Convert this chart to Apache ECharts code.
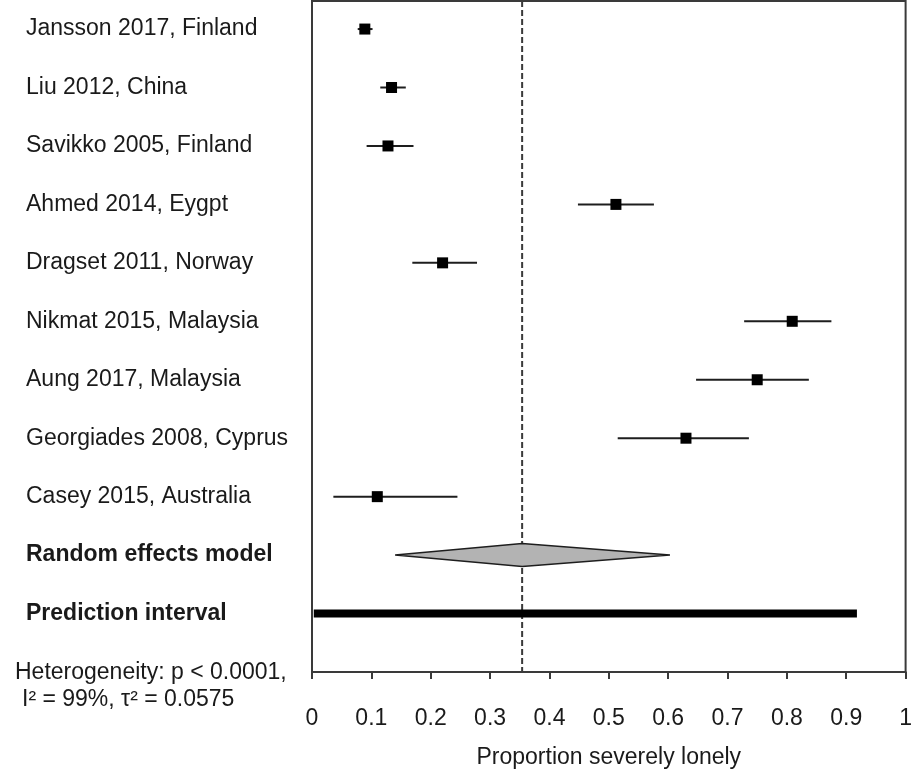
<!DOCTYPE html>
<html>
<head>
<meta charset="utf-8">
<script src="https://cdn.jsdelivr.net/npm/echarts@6/dist/echarts.min.js"></script>
<style>
  html, body { margin: 0; padding: 0; background: #ffffff; }
  #chart { width: 915px; height: 774px; }
</style>
</head>
<body>
<div id="chart"></div>
<script>
// Individual studies: proportion with 95% CI
const studies = [
  'Jansson 2017, Finland',
  'Liu 2012, China',
  'Savikko 2005, Finland',
  'Ahmed 2014, Eygpt',
  'Dragset 2011, Norway',
  'Nikmat 2015, Malaysia',
  'Aung 2017, Malaysia',
  'Georgiades 2008, Cyprus',
  'Casey 2015, Australia'
];
const estimate = [0.089, 0.134, 0.128, 0.512, 0.220, 0.809, 0.750, 0.630, 0.110];
const lower    = [0.077, 0.115, 0.092, 0.448, 0.169, 0.728, 0.647, 0.515, 0.036];
const upper    = [0.102, 0.158, 0.171, 0.576, 0.278, 0.875, 0.837, 0.736, 0.245];

// Pooled results
const summaryLabels = ['Random effects model', 'Prediction interval'];
const pooledEstimate = 0.354;
const pooledCI = [0.140, 0.603];
const predictionInterval = [0.003, 0.918];

// Axis
const xTickLabels = ['0', '0.1', '0.2', '0.3', '0.4', '0.5', '0.6', '0.7', '0.8', '0.9', '1'];
const xAxisTitle = 'Proportion severely lonely';
const heterogeneityLines = ['Heterogeneity: p < 0.0001,', 'I\u00b2 = 99%, \u03c4\u00b2 = 0.0575'];

const FONT = '"Liberation Sans", Arial, Helvetica, sans-serif';
const INK = '#1a1a1a';
const ROW_MIN = -0.48, ROW_MAX = 11.0;

const rowLabels = studies.concat(summaryLabels);
const nStudies = studies.length;

const chart = echarts.init(document.getElementById('chart'), null, { renderer: 'canvas' });

const option = {
  animation: false,
  backgroundColor: '#ffffff',
  grid: {
    left: 312, right: 7, top: 1, bottom: 100,
    show: true, borderColor: '#3a3a3a', borderWidth: 2, backgroundColor: 'transparent'
  },
  xAxis: {
    type: 'value', min: 0, max: 1, interval: 0.1, position: 'bottom',
    axisLine: { show: true, onZero: false, lineStyle: { color: '#3a3a3a', width: 2 } },
    axisTick: { show: true, inside: false, length: 7, lineStyle: { color: '#3a3a3a', width: 2 } },
    splitLine: { show: false },
    axisLabel: {
      margin: 35, fontFamily: FONT, fontSize: 23, color: INK,
      formatter: v => xTickLabels[Math.round(v * 10)]
    },
    name: xAxisTitle, nameLocation: 'middle', nameGap: 74,
    nameTextStyle: { fontFamily: FONT, fontSize: 23, color: INK }
  },
  yAxis: {
    type: 'value', inverse: true, min: ROW_MIN, max: ROW_MAX,
    axisLine: { show: false, onZero: false }, axisTick: { show: false },
    axisLabel: { show: false }, splitLine: { show: false }
  },
  graphic: heterogeneityLines.map((t, i) => ({
    type: 'text', left: i === 0 ? 15 : 22, top: i === 0 ? 661 : 688,
    style: { text: t, font: '23px ' + FONT, fill: INK }
  })),
  series: [
    // Row labels on the left
    {
      type: 'custom', clip: false, silent: true, z: 5,
      data: rowLabels.map((t, i) => [0, i, t]),
      encode: { x: 0, y: 1 },
      renderItem: (params, api) => {
        const i = api.value(1);
        const y = api.coord([0, i])[1];
        return {
          type: 'text',
          style: {
            x: 26, y: y, text: rowLabels[i],
            font: (i >= nStudies ? 'bold ' : '') + '23px ' + FONT,
            fill: INK, textVerticalAlign: 'middle', textAlign: 'left'
          }
        };
      }
    },
    // Reference line at the pooled estimate
    {
      type: 'custom', clip: false, silent: true, z: 2,
      data: [[pooledEstimate]],
      encode: { x: 0 },
      renderItem: (params, api) => {
        const x = api.value(0);
        const p0 = api.coord([x, ROW_MIN]);
        const p1 = api.coord([x, ROW_MAX]);
        return {
          type: 'line',
          shape: { x1: p0[0], y1: p0[1], x2: p1[0], y2: p1[1] },
          style: { stroke: '#3a3a3a', lineWidth: 2, lineDash: [6, 3] }
        };
      }
    },
    // Study estimates with confidence intervals
    {
      type: 'custom', silent: true, z: 4,
      data: studies.map((s, i) => [i, lower[i], estimate[i], upper[i]]),
      encode: { y: 0, x: [1, 2, 3] },
      renderItem: (params, api) => {
        const row = api.value(0);
        const lo = api.coord([api.value(1), row]);
        const mid = api.coord([api.value(2), row]);
        const hi = api.coord([api.value(3), row]);
        const s = 11;
        return {
          type: 'group',
          children: [
            { type: 'line', shape: { x1: lo[0], y1: lo[1], x2: hi[0], y2: hi[1] },
              style: { stroke: '#1e1e1e', lineWidth: 2 } },
            { type: 'rect', shape: { x: mid[0] - s / 2, y: mid[1] - s / 2, width: s, height: s },
              style: { fill: '#000000' } }
          ]
        };
      }
    },
    // Random effects diamond
    {
      type: 'custom', silent: true, z: 4,
      data: [[nStudies, pooledCI[0], pooledEstimate, pooledCI[1]]],
      encode: { y: 0, x: [1, 2, 3] },
      renderItem: (params, api) => {
        const row = api.value(0);
        const lo = api.coord([api.value(1), row]);
        const mid = api.coord([api.value(2), row]);
        const hi = api.coord([api.value(3), row]);
        const h = 11.5;
        return {
          type: 'polygon',
          shape: { points: [[lo[0], lo[1]], [mid[0], mid[1] - h], [hi[0], hi[1]], [mid[0], mid[1] + h]] },
          style: { fill: '#b3b3b3', stroke: '#1e1e1e', lineWidth: 1.5 }
        };
      }
    },
    // Prediction interval bar
    {
      type: 'custom', silent: true, z: 4,
      data: [[nStudies + 1, predictionInterval[0], predictionInterval[1]]],
      encode: { y: 0, x: [1, 2] },
      renderItem: (params, api) => {
        const row = api.value(0);
        const lo = api.coord([api.value(1), row]);
        const hi = api.coord([api.value(2), row]);
        const t = 8;
        return {
          type: 'rect',
          shape: { x: lo[0], y: lo[1] - t / 2, width: hi[0] - lo[0], height: t },
          style: { fill: '#000000' }
        };
      }
    }
  ]
};

chart.setOption(option);
</script>
</body>
</html>
